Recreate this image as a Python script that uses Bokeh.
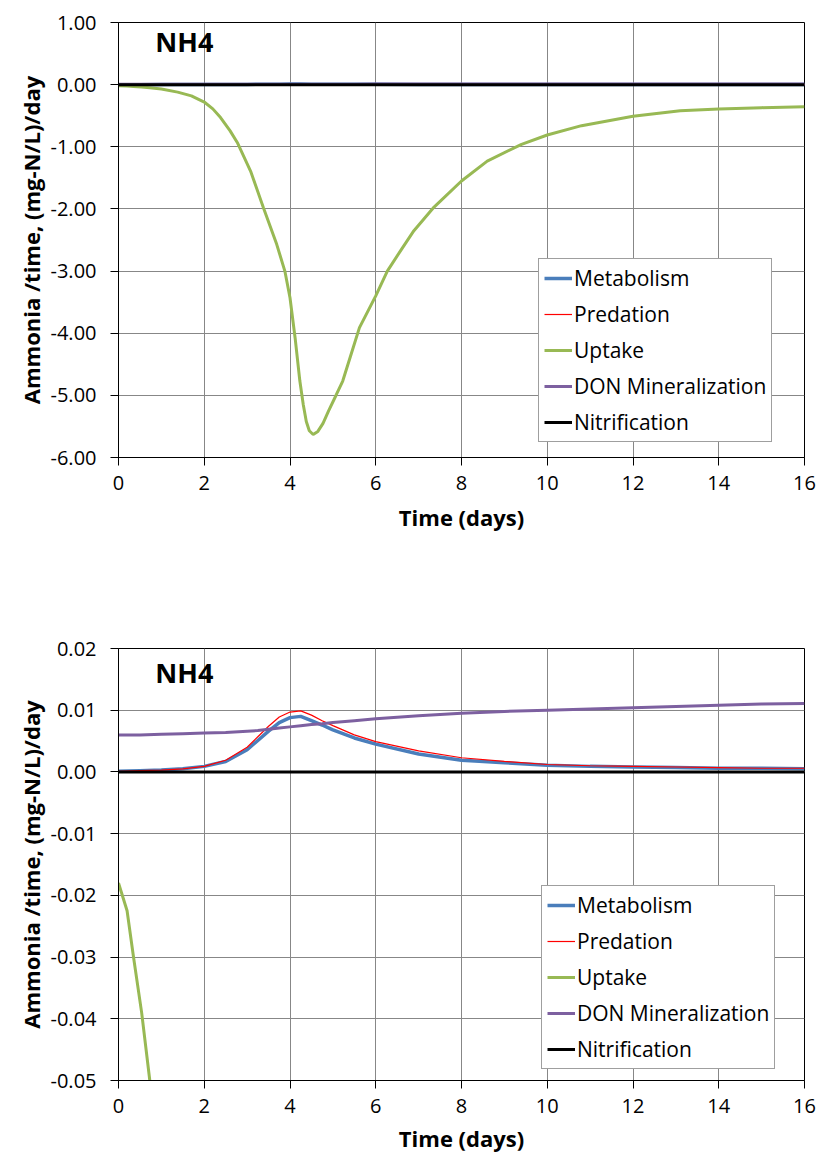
from bokeh.plotting import figure
from bokeh.layouts import column
from bokeh.models import Range1d, FixedTicker, PrintfTickFormatter, Label
from bokeh.embed import file_html
from bokeh.resources import INLINE

# ---------------- data ----------------
time_days = [0, 0.5, 1, 1.5, 2, 2.5, 3, 3.25, 3.5, 3.75, 4, 4.25, 4.5, 4.75, 5,
             5.5, 6, 7, 8, 9, 10, 11, 12, 13, 14, 15, 16]
metabolism = [0.0001, 0.0002, 0.0003, 0.0005, 0.0009, 0.0017, 0.0036, 0.0051, 0.0066,
              0.0080, 0.0088, 0.0090, 0.0083, 0.0076, 0.0068, 0.0055, 0.0045, 0.0029,
              0.0019, 0.0015, 0.0011, 0.0009, 0.0008, 0.0007, 0.0006, 0.0006, 0.0005]
predation = [0.0001, 0.0002, 0.0003, 0.0005, 0.0009, 0.0019, 0.0040, 0.0057, 0.0074,
             0.0089, 0.0097, 0.0099, 0.0092, 0.0083, 0.0075, 0.0060, 0.0049, 0.0034,
             0.0023, 0.0017, 0.0012, 0.0010, 0.0009, 0.0008, 0.0007, 0.0006, 0.0006]
don_mineralization = [0.0060, 0.0060, 0.0061, 0.0062, 0.0063, 0.0064, 0.0066, 0.0067,
                      0.0069, 0.0071, 0.0073, 0.0075, 0.0077, 0.0078, 0.0080, 0.0083,
                      0.0086, 0.0091, 0.0095, 0.0098, 0.0100, 0.0102, 0.0104, 0.0106,
                      0.0108, 0.0110, 0.0111]
nitrification = [0.0, 0.0, 0.0, 0.0, 0.0, 0.0, 0.0, 0.0, 0.0, 0.0, 0.0, 0.0, 0.0, 0.0,
                 0.0, 0.0, 0.0, 0.0, 0.0, 0.0, 0.0, 0.0, 0.0, 0.0, 0.0, 0.0, 0.0]

uptake_time = [0, 0.2, 0.35, 0.54, 0.73, 1.0, 1.38, 1.7, 2.0, 2.2, 2.38, 2.6, 2.77, 3.08,
               3.38, 3.69, 3.88, 4.0, 4.12, 4.23, 4.31, 4.38, 4.45, 4.54, 4.65, 4.77,
               4.9, 5.08, 5.23, 5.42, 5.62, 6.0, 6.27, 6.6, 6.89, 7.36, 8.0, 8.6, 9.4,
               10.0, 10.8, 12.0, 13.1, 14.0, 15.0, 16.0]
uptake = [-0.018, -0.0225, -0.030, -0.039, -0.050, -0.07, -0.12, -0.18, -0.28, -0.39,
          -0.53, -0.74, -0.93, -1.39, -1.98, -2.57, -3.0, -3.43, -4.08, -4.77, -5.15,
          -5.42, -5.57, -5.63, -5.58, -5.45, -5.25, -4.99, -4.77, -4.35, -3.91, -3.4,
          -3.0, -2.65, -2.35, -1.97, -1.55, -1.23, -0.96, -0.81, -0.66, -0.51, -0.42,
          -0.39, -0.37, -0.355]

x_ticks = [0, 2, 4, 6, 8, 10, 12, 14, 16]
y_ticks_top = [-6, -5, -4, -3, -2, -1, 0, 1]
y_ticks_bottom = [-0.05, -0.04, -0.03, -0.02, -0.01, 0.0, 0.01, 0.02]

title_text = "NH4"
x_label = "Time (days)"
y_label = "Ammonia /time, (mg-N/L)/day"

FONT = "Open Sans"


def make_fig(height, y_min, y_max, y_ticks, border_top, border_bottom,
             border_left, border_right, legend_loc, title_xy, xlab_standoff):
    p = figure(width=824, height=height, output_backend="svg", toolbar_location=None,
               x_range=Range1d(0, 16), y_range=Range1d(y_min, y_max),
               min_border_top=border_top, min_border_bottom=border_bottom,
               min_border_left=border_left, min_border_right=border_right)
    p.background_fill_color = "white"
    p.border_fill_color = "white"
    p.outline_line_color = "black"
    p.outline_line_width = 1

    p.line(time_days, metabolism, color="#4A7EBB", line_width=3.5, legend_label="Metabolism")
    p.line(time_days, predation, color="#FF0000", line_width=1.2, legend_label="Predation")
    p.line(uptake_time, uptake, color="#98B954", line_width=3, legend_label="Uptake")
    p.line(time_days, don_mineralization, color="#7D60A0", line_width=3,
           legend_label="DON Mineralization")
    p.line(time_days, nitrification, color="black", line_width=3, legend_label="Nitrification")

    for ax in (p.xaxis[0], p.yaxis[0]):
        ax.axis_line_color = "black"
        ax.major_tick_line_color = "black"
        ax.major_tick_out = 8
        ax.major_tick_in = 0
        ax.minor_tick_line_color = None
        ax.major_label_text_font = FONT
        ax.major_label_text_font_size = "20px"
        ax.major_label_text_color = "black"
        ax.axis_label_text_font = FONT
        ax.axis_label_text_font_size = "22px"
        ax.axis_label_text_font_style = "bold"
        ax.axis_label_text_color = "black"

    p.xaxis.ticker = FixedTicker(ticks=x_ticks)
    p.yaxis.ticker = FixedTicker(ticks=y_ticks)
    p.yaxis.formatter = PrintfTickFormatter(format="%.2f")
    p.xaxis.axis_label = x_label
    p.yaxis.axis_label = y_label
    p.xaxis.major_label_standoff = 10
    p.yaxis.major_label_standoff = 14
    p.xaxis.axis_label_standoff = xlab_standoff
    p.yaxis.axis_label_standoff = 2

    p.xgrid.grid_line_color = "#878787"
    p.ygrid.grid_line_color = "#878787"
    p.xgrid.grid_line_width = 1
    p.ygrid.grid_line_width = 1

    lg = p.legend[0]
    lg.location = legend_loc
    lg.glyph_width = 28
    lg.glyph_height = 20
    lg.label_standoff = 2
    lg.padding = 5
    lg.spacing = 8
    lg.margin = 0
    lg.border_line_color = "#404040"
    lg.border_line_width = 1
    lg.background_fill_alpha = 1
    lg.label_text_font = FONT
    lg.label_text_font_size = "21px"
    lg.label_text_color = "black"

    p.add_layout(Label(x=title_xy[0], y=title_xy[1], text=title_text,
                       text_font=FONT, text_font_size="27px", text_font_style="bold",
                       text_color="black"))
    return p


p1 = make_fig(590, -6, 1, y_ticks_top, 22, 133, 117, 15, (420, 15), (0.86, 0.40), 9)
p2 = make_fig(570, -0.05, 0.02, y_ticks_bottom, 58, 80, 118, 20, (423, 11), (0.86, 0.0131), 7)

layout = column(p1, p2, spacing=0)
open("out.html", "w").write(file_html(layout, INLINE))
